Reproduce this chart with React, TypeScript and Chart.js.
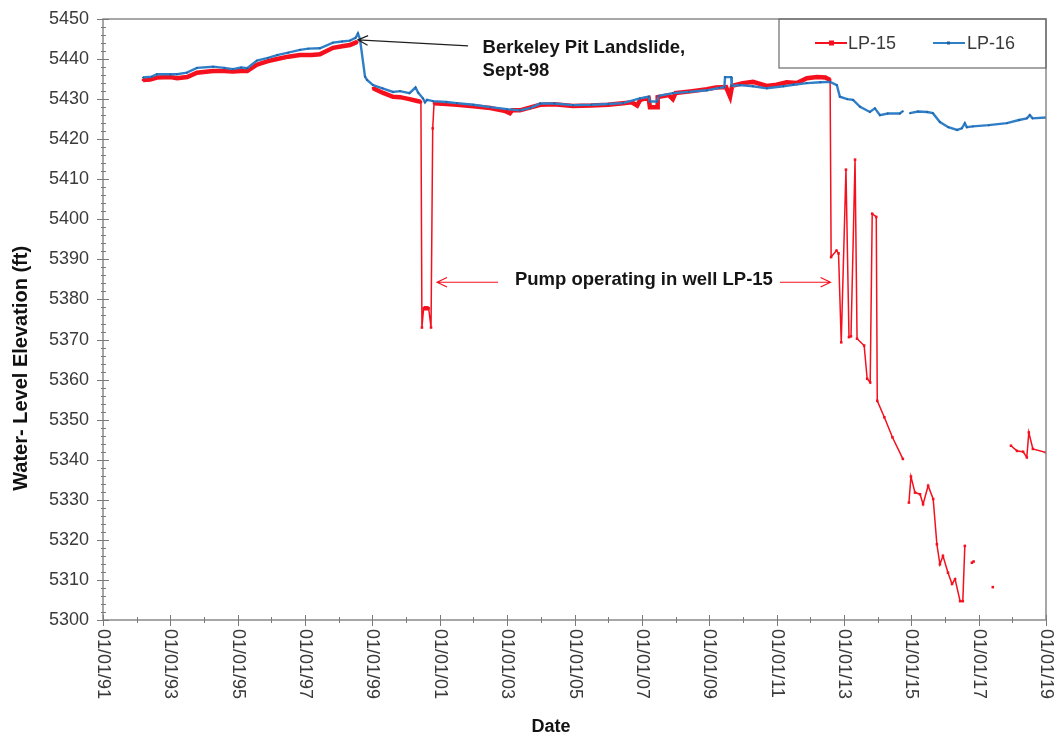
import { useEffect, useRef } from 'react';
import { Chart, registerables } from 'chart.js';

Chart.register(...registerables);

// Water-level records, dates as decimal years
const lp16Years = [
  1992.19, 1992.45, 1992.6, 1993.0, 1993.2, 1993.49, 1993.79, 1994.27, 1994.6, 1994.86,
  1995.1, 1995.28, 1995.57, 1995.9, 1996.17, 1996.5, 1996.85, 1997.1, 1997.44, 1997.83,
  1998.1, 1998.33, 1998.5, 1998.57, 1998.63, 1998.78, 1998.84, 1999.02, 1999.3, 1999.61,
  1999.82, 2000.1, 2000.28, 2000.36, 2000.5, 2000.56, 2000.62, 2000.8, 2001.2, 2001.51,
  2002.0, 2002.5, 2003.0, 2003.38, 2003.7, 2003.98, 2004.4, 2004.95, 2005.5, 2006.0,
  2006.44, 2006.94, 2007.2, 2007.24, 2007.45, 2007.5, 2007.92, 2008.4, 2008.93, 2009.3,
  2009.45, 2009.47, 2009.65, 2009.67, 2009.91, 2010.3, 2010.71, 2011.2, 2011.5, 2011.9,
  2012.3, 2012.59, 2012.79, 2012.88, 2013.1, 2013.27, 2013.48, 2013.77, 2013.92, 2014.07,
  2014.3, 2014.66, 2014.75, 2014.82, 2014.96, 2015.2, 2015.47, 2015.64, 2015.85, 2016.1,
  2016.36, 2016.5, 2016.59, 2016.65, 2016.83, 2017.3, 2017.84, 2018.2, 2018.43, 2018.52,
  2018.6, 2019.0,
];
const lp16Levels = [
  5435.4, 5435.6, 5436.2, 5436.2, 5436.2, 5436.6, 5437.8, 5438.1, 5437.8, 5437.5,
  5437.9, 5437.7, 5439.6, 5440.3, 5441.0, 5441.6, 5442.3, 5442.6, 5442.7, 5444.1,
  5444.4, 5444.6, 5445.3, 5446.4, 5445.0, 5435.6, 5434.8, 5433.5, 5432.7, 5431.8,
  5432.0, 5431.5, 5432.9, 5431.6, 5430.2, 5429.2, 5429.8, 5429.5, 5429.3, 5429.0,
  5428.6, 5428.0, 5427.5, 5427.2, 5427.8, 5428.9, 5428.9, 5428.5, 5428.6, 5428.8,
  5429.0, 5430.2, 5430.6, 5429.4, 5429.4, 5430.8, 5431.5, 5431.8, 5432.2, 5432.8,
  5433.0, 5435.5, 5435.5, 5433.3, 5433.5, 5433.2, 5432.7, 5433.2, 5433.6, 5434.0,
  5434.2, 5434.3, 5433.5, 5430.6, 5430.0, 5429.8, 5428.1, 5426.8, 5427.7, 5426.0,
  5426.4, 5426.4, 5427.0, null, 5426.5, 5426.9, 5426.8, 5426.5, 5424.3, 5423.0,
  5422.3, 5422.7, 5424.0, 5423.0, 5423.2, 5423.5, 5424.0, 5424.8, 5425.2, 5426.0,
  5425.2, 5425.4,
];

const lp15Years = [
  1992.19, 1992.4, 1992.6, 1993.0, 1993.2, 1993.5, 1993.79, 1994.27, 1994.6, 1994.86,
  1995.1, 1995.28, 1995.57, 1995.9, 1996.17, 1996.5, 1996.85, 1997.2, 1997.44, 1997.83,
  1998.1, 1998.33, 1998.55, 1998.8, 1999.02, 1999.3, 1999.61, 1999.82, 2000.1, 2000.3,
  2000.44, 2000.47, 2000.52, 2000.67, 2000.74, 2000.79, 2000.83, 2001.2, 2001.51, 2002.0,
  2002.5, 2002.95, 2003.08, 2003.15, 2003.38, 2003.98, 2004.4, 2004.95, 2005.5, 2006.0,
  2006.44, 2006.7, 2006.86, 2006.95, 2007.2, 2007.24, 2007.45, 2007.47, 2007.8, 2007.92,
  2008.0, 2008.5, 2008.93, 2009.2, 2009.5, 2009.62, 2009.68, 2010.0, 2010.3, 2010.71,
  2011.0, 2011.3, 2011.6, 2011.9, 2012.2, 2012.45, 2012.59, 2012.62, 2012.78, 2012.84,
  2012.92, 2013.06, 2013.15, 2013.21, 2013.33, 2013.39, 2013.6, 2013.69, 2013.78, 2013.84,
  2013.96, 2013.99, 2014.2, 2014.44, 2014.75, 2014.85, 2014.93, 2014.99, 2015.11, 2015.26,
  2015.35, 2015.5, 2015.65, 2015.76, 2015.85, 2015.94, 2016.09, 2016.21, 2016.3, 2016.45,
  2016.53, 2016.59, 2016.7, 2016.8, 2016.85, 2017.0, 2017.42, 2017.6, 2017.96, 2018.14,
  2018.32, 2018.43, 2018.49, 2018.61, 2019.0,
];
const lp15Levels = [
  5434.8, 5434.9, 5435.4, 5435.5, 5435.2, 5435.5, 5436.6, 5437.0, 5437.0, 5436.9,
  5437.0, 5437.0, 5438.6, 5439.5, 5440.0, 5440.6, 5441.0, 5441.0, 5441.2, 5442.8,
  5443.2, 5443.5, 5444.3, null, 5432.7, 5431.6, 5430.6, 5430.5, 5430.0, 5429.6,
  5429.3, 5373.0, 5377.8, 5377.8, 5373.0, 5422.7, 5429.0, 5428.8, 5428.6, 5428.2,
  5427.8, 5427.0, 5426.5, 5427.2, 5427.2, 5428.6, 5428.7, 5428.3, 5428.4, 5428.6,
  5429.0, 5429.2, 5428.4, 5429.8, 5430.3, 5428.0, 5428.0, 5430.5, 5431.0, 5430.0,
  5431.5, 5432.0, 5432.5, 5432.9, 5433.0, 5430.6, 5433.3, 5434.0, 5434.3, 5433.3,
  5433.6, 5434.2, 5434.0, 5435.2, 5435.5, 5435.4, 5434.8, 5390.6, 5392.2, 5391.5,
  5369.3, 5412.4, 5370.6, 5370.8, 5414.9, 5370.2, 5368.5, 5360.2, 5359.3, 5401.4,
  5400.6, 5354.7, 5350.6, 5345.6, 5340.2, null, 5329.3, 5335.8, 5331.8, 5331.4,
  5328.9, 5333.5, 5330.2, 5318.9, 5313.9, 5316.0, 5311.8, 5309.0, 5310.2, 5304.7,
  5304.7, 5318.5, null, 5314.3, 5314.6, null, 5308.2, null, 5343.5, 5342.2,
  5342.0, 5340.6, 5346.8, 5342.7, 5341.8,
];

const dateTicks = [1991, 1993, 1995, 1997, 1999, 2001, 2003, 2005, 2007, 2009, 2011, 2013, 2015, 2017, 2019];
const levelTicks = [5300, 5310, 5320, 5330, 5340, 5350, 5360, 5370, 5380, 5390, 5400, 5410, 5420, 5430, 5440, 5450];

const RED = '#f5101e';
const BLUE = '#2f7fc8';
const FONT = '"Liberation Sans", Arial, Helvetica, sans-serif';
const TEXT = '#3a3a3a';

const dateLabel = (yr: number) => '01/01/' + String(yr % 100).padStart(2, '0');

function arrow(ctx: CanvasRenderingContext2D, x0: number, y0: number, x1: number, y1: number, color: string, width: number) {
  const ang = Math.atan2(y1 - y0, x1 - x0);
  const head = 11;
  ctx.strokeStyle = color;
  ctx.lineWidth = width;
  ctx.beginPath();
  ctx.moveTo(x0, y0);
  ctx.lineTo(x1, y1);
  ctx.moveTo(x1 - head * Math.cos(ang - 0.45), y1 - head * Math.sin(ang - 0.45));
  ctx.lineTo(x1, y1);
  ctx.lineTo(x1 - head * Math.cos(ang + 0.45), y1 - head * Math.sin(ang + 0.45));
  ctx.stroke();
}

const decorations = {
  id: 'decorations',
  beforeDraw(chart: any) {
    const { ctx, width, height } = chart;
    ctx.save();
    ctx.fillStyle = '#ffffff';
    ctx.fillRect(0, 0, width, height);
    ctx.restore();
  },
  afterDraw(chart: any) {
    const { ctx, chartArea } = chart;
    const { left, right, top, bottom } = chartArea;
    const xs = chart.scales.x;
    const ys = chart.scales.y;
    ctx.save();

    // plot frame
    ctx.strokeStyle = '#8a8a8a';
    ctx.lineWidth = 1.5;
    ctx.strokeRect(left, top, right - left, bottom - top);

    // y-axis ticks: major every 10 ft, minor every 2 ft
    ctx.strokeStyle = '#7a7a7a';
    ctx.lineWidth = 1;
    for (let v = ys.min; v <= ys.max; v += 2) {
      const py = Math.round(ys.getPixelForValue(v)) + 0.5;
      const major = v % 10 === 0;
      ctx.beginPath();
      ctx.moveTo(left - (major ? 6 : 2), py);
      ctx.lineTo(left + (major ? 6 : 3), py);
      ctx.stroke();
    }
    // x-axis ticks: major every 2 years, minor every year
    for (let yr = xs.min; yr <= xs.max; yr += 1) {
      const px = Math.round(xs.getPixelForValue(yr)) + 0.5;
      const major = (yr - xs.min) % 2 === 0;
      ctx.beginPath();
      ctx.moveTo(px, bottom - (major ? 5 : 3));
      ctx.lineTo(px, bottom + (major ? 6 : 3));
      ctx.stroke();
    }

    // tick labels
    ctx.fillStyle = TEXT;
    ctx.font = `18px ${FONT}`;
    ctx.textAlign = 'right';
    ctx.textBaseline = 'middle';
    levelTicks.forEach((v) => {
      ctx.fillText(String(v), left - 14, ys.getPixelForValue(v));
    });
    ctx.textAlign = 'left';
    dateTicks.forEach((yr) => {
      ctx.save();
      ctx.translate(xs.getPixelForValue(yr), bottom + 9);
      ctx.rotate(Math.PI / 2);
      ctx.fillText(dateLabel(yr), 0, 0);
      ctx.restore();
    });

    // axis titles
    ctx.fillStyle = '#111111';
    ctx.font = `bold 18px ${FONT}`;
    ctx.textAlign = 'center';
    ctx.fillText('Date', xs.getPixelForValue(2004.3), 727);
    ctx.save();
    ctx.font = `bold 20px ${FONT}`;
    ctx.translate(21, ys.getPixelForValue(5362.8));
    ctx.rotate(-Math.PI / 2);
    ctx.fillText('Water- Level Elevation (ft)', 0, 0);
    ctx.restore();

    // legend
    const lx = right - 267;
    ctx.strokeStyle = '#6a6a6a';
    ctx.lineWidth = 1.2;
    ctx.strokeRect(lx, top, 267, 49);
    const ly = top + 24;
    ctx.lineWidth = 2;
    ctx.strokeStyle = RED;
    ctx.beginPath();
    ctx.moveTo(lx + 36, ly);
    ctx.lineTo(lx + 68, ly);
    ctx.stroke();
    ctx.fillStyle = RED;
    ctx.fillRect(lx + 50, ly - 2.5, 5, 5);
    ctx.strokeStyle = BLUE;
    ctx.beginPath();
    ctx.moveTo(lx + 154, ly);
    ctx.lineTo(lx + 186, ly);
    ctx.stroke();
    ctx.fillStyle = '#1f5f9f';
    ctx.fillRect(lx + 168, ly - 1.5, 3, 3);
    ctx.fillStyle = TEXT;
    ctx.font = `18px ${FONT}`;
    ctx.textAlign = 'left';
    ctx.textBaseline = 'middle';
    ctx.fillText('LP-15', lx + 69, ly + 1);
    ctx.fillText('LP-16', lx + 188, ly + 1);

    // landslide note
    ctx.fillStyle = '#151515';
    ctx.font = `bold 18.5px ${FONT}`;
    ctx.textAlign = 'left';
    ctx.fillText('Berkeley Pit Landslide,', xs.getPixelForValue(2002.27), ys.getPixelForValue(5442.7));
    ctx.fillText('Sept-98', xs.getPixelForValue(2002.27), ys.getPixelForValue(5437.0));
    arrow(ctx,
      xs.getPixelForValue(2001.84), ys.getPixelForValue(5443.3),
      xs.getPixelForValue(1998.57), ys.getPixelForValue(5444.8),
      '#202020', 1.2);

    // pumping note
    const py = ys.getPixelForValue(5384.3);
    ctx.fillText('Pump operating in well LP-15', xs.getPixelForValue(2003.23), py - 2);
    arrow(ctx, xs.getPixelForValue(2002.73), py, xs.getPixelForValue(2000.92), py, RED, 1.2);
    arrow(ctx, xs.getPixelForValue(2011.1), py, xs.getPixelForValue(2012.6), py, RED, 1.2);

    ctx.restore();
  },
};

export default function App() {
  const canvasRef = useRef<HTMLCanvasElement | null>(null);

  useEffect(() => {
    if (!canvasRef.current) return;
    const toPoints = (xsArr: number[], ysArr: (number | null)[]) =>
      xsArr.map((x, i) => ({ x, y: ysArr[i] }));

    const chart = new Chart(canvasRef.current, {
      type: 'line',
      data: {
        datasets: [
          {
            label: 'LP-16',
            data: toPoints(lp16Years, lp16Levels),
            borderColor: BLUE,
            backgroundColor: '#1f5f9f',
            borderWidth: 2.4,
            pointRadius: 1.2,
            pointStyle: 'rectRot',
            pointBorderWidth: 0,
            spanGaps: false,
            tension: 0,
          },
          {
            label: 'LP-15',
            data: toPoints(lp15Years, lp15Levels),
            borderColor: RED,
            backgroundColor: RED,
            borderWidth: 1.5,
            pointRadius: 1.8,
            pointStyle: 'rect',
            pointBorderWidth: 0,
            spanGaps: false,
            tension: 0,
            segment: {
              borderWidth: (ctx: any) =>
                ctx.p0.parsed.x < 2012.55 && Math.abs(ctx.p1.parsed.y - ctx.p0.parsed.y) < 4 ? 4.5 : 1.5,
            },
          },
        ],
      },
      options: {
        responsive: false,
        animation: false,
        events: [],
        layout: { padding: { left: 103, top: 19, right: 11, bottom: 118 } },
        plugins: { legend: { display: false }, tooltip: { enabled: false } },
        scales: {
          x: { type: 'linear', min: 1991, max: 2019, display: false },
          y: { type: 'linear', min: 5300, max: 5450, display: false },
        },
      },
      plugins: [decorations],
    } as any);

    return () => chart.destroy();
  }, []);

  return (
    <div style={{ position: 'fixed', left: 0, top: 0, width: 1057, height: 738, background: '#fff' }}>
      <canvas ref={canvasRef} width={1057} height={738} style={{ display: 'block' }} />
    </div>
  );
}
